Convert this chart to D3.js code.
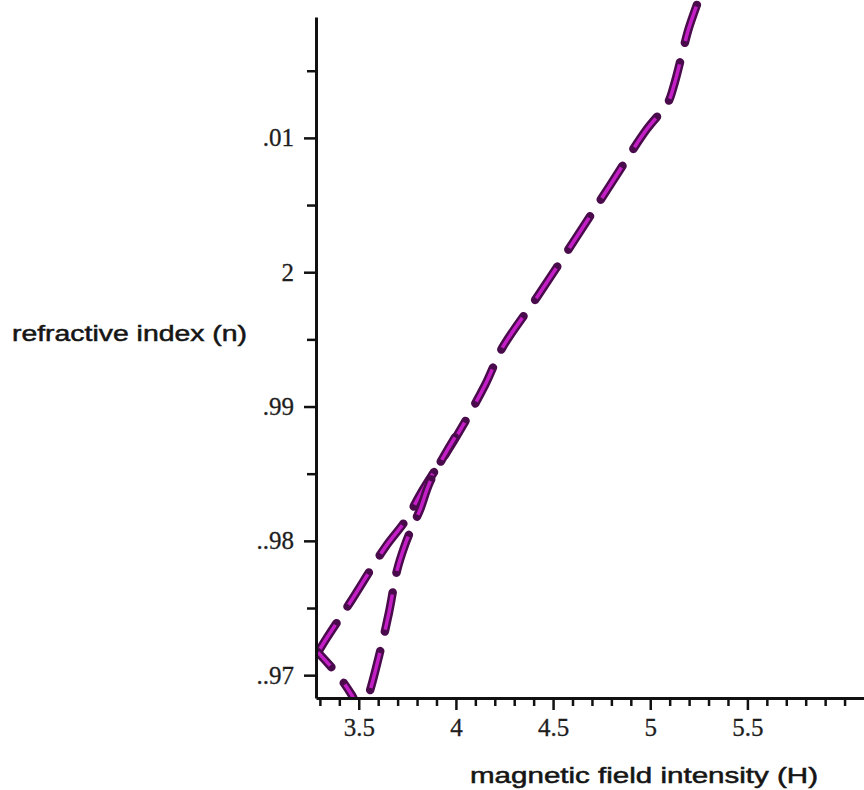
<!DOCTYPE html>
<html lang="en">
<head>
    <meta charset="UTF-8">
    <title>refractive index vs magnetic field intensity</title>
    <script src="https://d3js.org/d3.v7.min.js"></script>
    <style>
        body { margin: 0; background: #fff; }
        .axis-title { font-family: "Liberation Sans", Arial, sans-serif; font-size: 22px; fill: #151515; stroke: #151515; stroke-width: 0.5px; }
    </style>
</head>
<body>
<div id="chart"></div>
<script>
    // upper branch (from top of plot down to the cusp at the left edge)
    var hUpper = [5.24, 5.195, 5.17, 5.12, 5.09, 4.98, 4.79, 4.62, 4.42, 4.24, 4.15, 4.0, 3.83, 3.74, 3.635, 3.455, 3.337, 3.29];
    var nUpper = [2.0199, 2.0180, 2.0166, 2.0138, 2.0126, 2.0106, 2.0064, 2.0026, 1.9982, 1.9944, 1.9916, 1.9877, 1.9838, 1.9815, 1.9795, 1.9754, 1.9728, 1.9717];
    // lower branch (cusp -> dips below the axis -> rejoins the upper one)
    var hLower = [3.29, 3.388, 3.465, 3.512, 3.548, 3.609, 3.656, 3.697, 3.738, 3.774, 3.815, 3.867, 3.995];
    var nLower = [1.9717, 1.9701, 1.9685, 1.9672, 1.9684, 1.9717, 1.9747, 1.9778, 1.9797, 1.9810, 1.9823, 1.9844, 1.9877];

    var xTicks = [3.5, 4, 4.5, 5, 5.5];
    var xTickLabels = ["3.5", "4", "4.5", "5", "5.5"];
    var yTicks = [2.01, 2, 1.99, 1.98, 1.97];
    var yTickLabels = [".01", "2", ".99", "..98", "..97"];

    var width = 864, height = 790;
    var plot = { left: 316, right: 864, top: 17, bottom: 698 };

    var svg = d3.select("#chart").append("svg")
        .attr("width", width)
        .attr("height", height);

    var x = d3.scaleLinear().domain([3.28, 6.1]).range([plot.left, plot.right]);
    var y = d3.scaleLinear().domain([1.9683, 2.019]).range([plot.bottom, plot.top]);

    svg.append("clipPath").attr("id", "clip")
        .append("rect")
        .attr("x", plot.left).attr("y", 0)
        .attr("width", plot.right - plot.left).attr("height", plot.bottom);

    var line = d3.line().x(d => x(d[0])).y(d => y(d[1])).curve(d3.curveCatmullRom);

    var branches = [
        d3.zip(hUpper, nUpper),
        d3.zip(hLower, nLower)
    ];

    var g = svg.append("g").attr("clip-path", "url(#clip)");
    branches.forEach(function (b, i) {
        g.append("path").datum(b)
            .attr("fill", "none")
            .attr("stroke", "#4a0b4c")
            .attr("stroke-width", 8.5)
            .attr("stroke-linecap", "round")
            .attr("stroke-dasharray", "40,20")
            .attr("stroke-dashoffset", i * 20)
            .attr("d", line);
        g.append("path").datum(b)
            .attr("fill", "none")
            .attr("stroke", "#c41fc6")
            .attr("stroke-width", 3.5)
            .attr("stroke-linecap", "butt")
            .attr("stroke-dasharray", "36,24")
            .attr("stroke-dashoffset", i * 20 - 2)
            .attr("d", line);
    });

    // minor ticks
    var xMinor = d3.range(3.3, 6.1, 0.1).filter(v => !xTicks.some(t => Math.abs(t - v) < 1e-6));
    var yMinor = [2.015, 2.005, 1.995, 1.985, 1.975];

    svg.append("g")
        .attr("transform", "translate(0," + plot.bottom + ")")
        .call(d3.axisBottom(x).tickValues(xMinor).tickSize(8).tickFormat("").tickSizeOuter(0))
        .call(a => a.select(".domain").remove());
    svg.append("g")
        .attr("transform", "translate(" + plot.left + ",0)")
        .call(d3.axisLeft(y).tickValues(yMinor).tickSize(9).tickFormat("").tickSizeOuter(0))
        .call(a => a.select(".domain").remove());

    // major ticks + axis lines
    svg.append("g")
        .attr("transform", "translate(0," + plot.bottom + ")")
        .call(d3.axisBottom(x).tickValues(xTicks).tickSize(12).tickPadding(8).tickSizeOuter(0)
            .tickFormat((d, i) => xTickLabels[i]));
    svg.append("g")
        .attr("transform", "translate(" + plot.left + ",0)")
        .call(d3.axisLeft(y).tickValues(yTicks).tickSize(12).tickPadding(10).tickSizeOuter(0)
            .tickFormat((d, i) => yTickLabels[i]));

    svg.selectAll(".tick line").attr("stroke", "#111").attr("stroke-width", 2.5);
    svg.selectAll(".domain").attr("stroke", "#111").attr("stroke-width", 3);
    svg.selectAll(".tick text")
        .attr("font-family", "Liberation Serif, DejaVu Serif, serif")
        .attr("font-size", 25)
        .attr("fill", "#1e1e1e")
        .attr("stroke", "#1e1e1e")
        .attr("stroke-width", 0.3);

    // axis titles
    svg.append("text")
        .attr("class", "axis-title")
        .attr("x", 470).attr("y", 783)
        .attr("textLength", 348).attr("lengthAdjust", "spacingAndGlyphs")
        .text("magnetic field intensity (H)");

    svg.append("text")
        .attr("class", "axis-title")
        .attr("x", 12).attr("y", 341)
        .attr("textLength", 235).attr("lengthAdjust", "spacingAndGlyphs")
        .text("refractive index (n)");
</script>
</body>
</html>
